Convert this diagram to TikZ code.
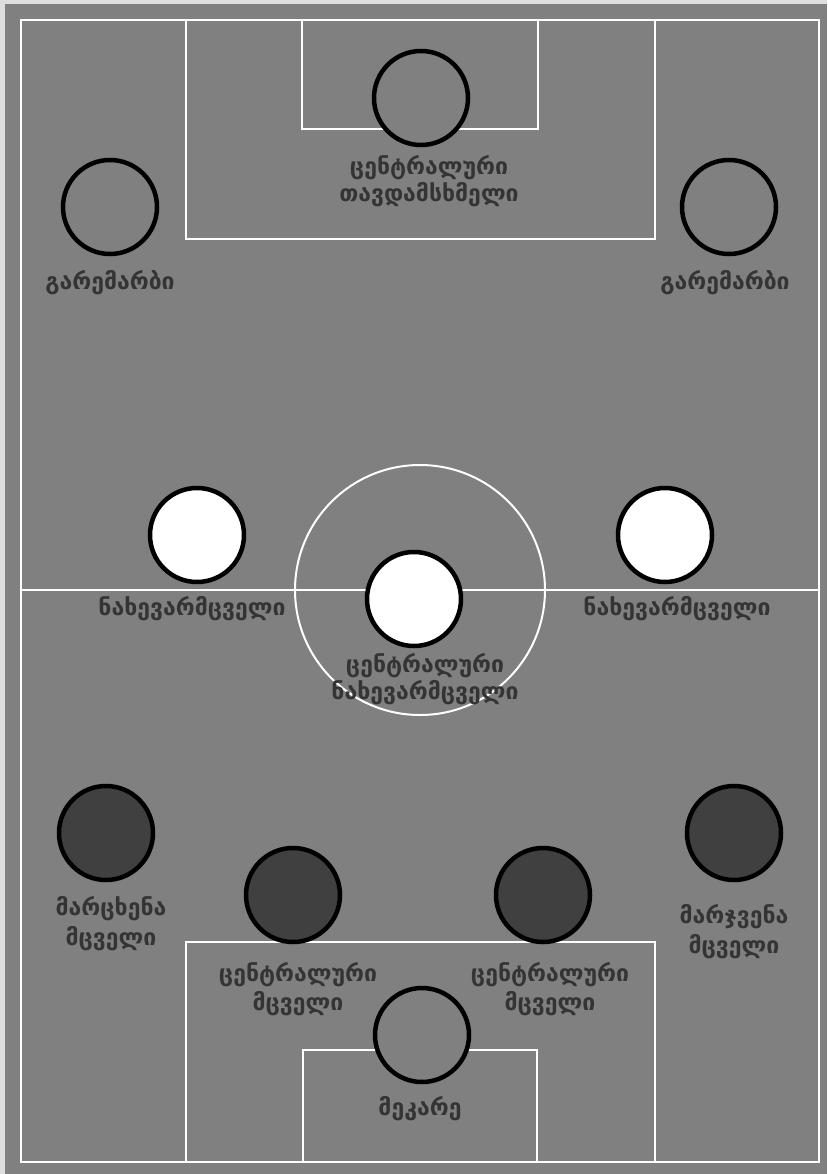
\documentclass[tikz,border=0pt]{standalone}
\usepackage{fontspec}
\newfontfamily\geofont{DejaVu Sans}
\usepackage{xcolor}
\usetikzlibrary{positioning}
\definecolor{pitch}{RGB}{128,128,128}
\definecolor{edge}{RGB}{222,222,222}
\definecolor{defc}{RGB}{64,64,64}
\definecolor{txt}{RGB}{52,52,52}

\begin{document}
\begin{tikzpicture}[x=1pt,y=-1pt,
  font=\geofont\bfseries\fontsize{23}{27}\selectfont,
  pl/.style={draw=black,circle,line width=4.5pt,minimum size=94pt,inner sep=0pt},
  lbl/.style={text=txt,align=center,inner sep=0pt},
  ln/.style={draw=white,line width=2pt}
]
\useasboundingbox (0,0) rectangle (827,1174);
\fill[edge] (0,0) rectangle (827,1174);
\fill[pitch] (5,4) rectangle (827,1174);
% pitch
\draw[ln] (21,20) rectangle (819,1162);
\draw[ln] (21,590) -- (819,590);
\draw[ln] (420,590) circle[radius=125];
\draw[ln] (186,20) rectangle (655,239);
\draw[ln] (302,20) rectangle (538,129);
\draw[ln] (186,1162) rectangle (655,942);
\draw[ln] (303,1162) rectangle (537,1050);
% players
\node[pl,fill=pitch] (cf) at (421,98) {};
\node[pl,fill=pitch] (lw) at (110,207) {};
\node[pl,fill=pitch] (rw) at (729,207) {};
\node[pl,fill=white] (lm) at (197,535) {};
\node[pl,fill=white] (rm) at (665,535) {};
\node[pl,fill=white] (cm) at (414,599) {};
\node[pl,fill=defc] (lb) at (106,833) {};
\node[pl,fill=defc] (rb) at (734,833) {};
\node[pl,fill=defc] (lcb) at (293,895) {};
\node[pl,fill=defc] (rcb) at (543,895) {};
\node[pl,fill=pitch] (gk) at (422,1035) {};
% labels
\node[lbl,below=8pt of cf,xshift=8pt] (cf-l) {ცენტრალური\\თავდამსხმელი};
\node[lbl,below=14pt of lw] (lw-l) {გარემარბი};
\node[lbl,below=14pt of rw,xshift=-4pt] (rw-l) {გარემარბი};
\node[lbl,below=12pt of lm,xshift=-5pt] (lm-l) {ნახევარმცველი};
\node[lbl,below=12pt of rm,xshift=12pt] (rm-l) {ნახევარმცველი};
\node[lbl,below=5pt of cm,xshift=11pt] (cm-l) {ცენტრალური\\ნახევარმცველი};
\node[lbl,below=14pt of lb,xshift=5pt] (lb-l) {მარცხენა\\[3pt]მცველი};
\node[lbl,below=22pt of rb] (rb-l) {მარჯვენა\\[3pt]მცველი};
\node[lbl,below=18pt of lcb,xshift=5pt] (lcb-l) {ცენტრალური\\[2pt]მცველი};
\node[lbl,below=18pt of rcb,xshift=7pt] (rcb-l) {ცენტრალური\\[2pt]მცველი};
\node[lbl,below=12pt of gk,xshift=-2pt] (gk-l) {მეკარე};
\end{tikzpicture}
\end{document}
